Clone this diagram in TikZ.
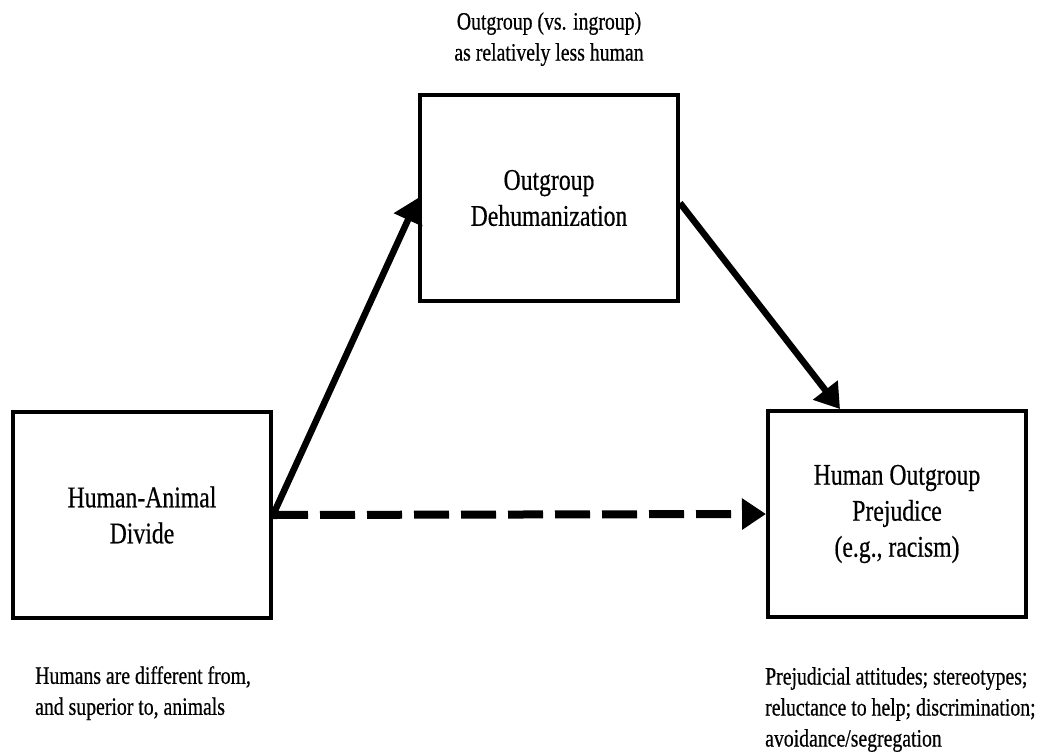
\documentclass[tikz,border=0pt]{standalone}
\usepackage{fontspec}
\setmainfont{Liberation Serif}[FakeStretch=0.79, FakeBold=0.5]
\usetikzlibrary{arrows.meta}

\begin{document}
\begin{tikzpicture}[x=1pt, y=-1pt,
  box/.style={draw, line width=4pt, minimum width=258pt, minimum height=206pt, inner sep=0pt, align=center, font=\fontsize{30}{36}\selectfont},
  note/.style={inner sep=0pt, font=\fontsize{25}{31}\selectfont},
  link/.style={line width=6.5pt, -{Triangle[length=24pt, width=30pt]}}]

\useasboundingbox (0,0) rectangle (1042,753);

% nodes
\node[box] (hadiv) at (142, 515) {Human-Animal\\Divide};
\node[box] (dehum) at (549, 198) {Outgroup\\Dehumanization};
\node[box] (prej) at (897, 514) {Human Outgroup\\Prejudice\\(e.g., racism)};

\node[note, align=center, anchor=north] (dehumnote) at (549, 12) {Outgroup (vs. ingroup)\\as relatively less human};
\node[note, align=left, anchor=north west] (hadivnote) at (35, 666) {Humans are different from,\\and superior to, animals};
\node[note, align=left, anchor=north west] (prejnote) at (765, 667) {Prejudicial attitudes; stereotypes;\\reluctance to help; discrimination;\\avoidance/segregation};

% arrows
\draw[link] (hadiv.east) -- (dehum.west);
\draw[link] ([yshift=-5pt]dehum.east) -- ([xshift=-57pt]prej.north);
\draw[link, line width=8pt, dash pattern=on 35pt off 12pt] (hadiv.east) -- (prej.west);

\end{tikzpicture}
\end{document}
